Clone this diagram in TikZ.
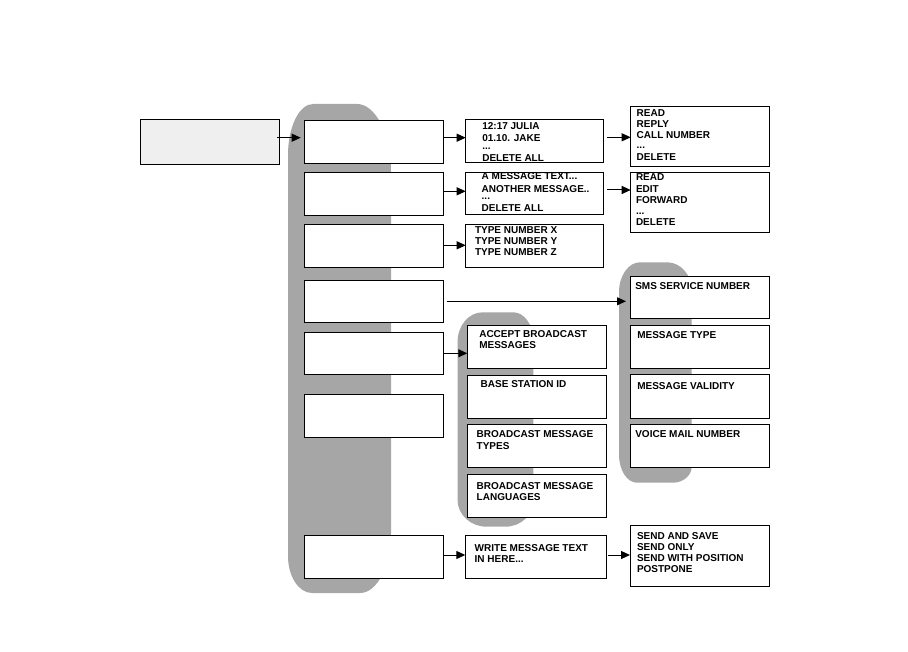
\documentclass[tikz,border=0pt]{standalone}
\usepackage{fontspec}
\setmainfont{Liberation Sans}
\usetikzlibrary{arrows.meta}
\definecolor{greyband}{RGB}{166,166,166}
\definecolor{startfill}{RGB}{239,239,239}
\newcommand\bx[6][]{\node[box,#1,minimum width={(#5-#3)*1pt},minimum height={(#6-#4)*1pt}] (#2) at ({(#3+#5)/2},{(#4+#6)/2}) {};}
\newcommand\lns[1]{\begin{tabular}[t]{@{}l@{}}#1\end{tabular}}
\begin{document}
\begin{tikzpicture}[x=1pt,y=-1pt,
 box/.style={draw=black,line width=1pt,fill=white,inner sep=0pt,outer sep=0pt},
 txt/.style={anchor=base west,inner sep=0pt,outer sep=0pt,font=\fontsize{10}{11}\selectfont\bfseries},
 arr/.style={line width=1pt,-{Triangle[length=9pt,width=8pt]}}]
\useasboundingbox (0,0) rectangle (908,652);
% grey backgrounds
\fill[greyband] (288,155) arc[start angle=180,end angle=270,x radius=25,y radius=51]
  -- (357,104) arc[start angle=270,end angle=360,x radius=34,y radius=68]
  -- (391,533) arc[start angle=0,end angle=90,x radius=31,y radius=60]
  -- (312,593) arc[start angle=90,end angle=180,x radius=24,y radius=37] -- cycle;
\fill[greyband] (457.5,342.3) arc[start angle=180,end angle=270,x radius=25,y radius=30]
  -- (513.3,312.3) arc[start angle=270,end angle=360,x radius=20,y radius=28]
  -- (533.3,500.7) arc[start angle=0,end angle=90,x radius=28,y radius=26]
  -- (486.5,526.7) arc[start angle=90,end angle=180,x radius=29,y radius=27] -- cycle;
\fill[greyband] (619,292.3) arc[start angle=180,end angle=270,x radius=21,y radius=30]
  -- (667,262.3) arc[start angle=270,end angle=360,x radius=24.7,y radius=28]
  -- (691.7,466.7) arc[start angle=0,end angle=90,x radius=19,y radius=16]
  -- (637,482.7) arc[start angle=90,end angle=180,x radius=18,y radius=28] -- cycle;
% boxes
\bx[fill=startfill]{start}{140.3}{120}{279.7}{164.3}
\bx{c1}{304.3}{120.3}{443.7}{163.3}
\bx{c2}{304.3}{172.3}{443.7}{215.3}
\bx{c3}{304.3}{224.3}{443.7}{267.3}
\bx{c4}{304.3}{280.3}{443.7}{323}
\bx{c5}{304.3}{332.3}{443.7}{375}
\bx{c6}{304.3}{394.3}{443.7}{437}
\bx{c7}{304.3}{535}{443.7}{578.3}
\bx{ba}{465.7}{119.3}{603.7}{162.7}
\bx{bb}{465.7}{172.3}{603.7}{214.3}
\bx{bc}{465.7}{224.3}{603.7}{267.3}
\bx{bd}{630.7}{106.7}{769.3}{166.7}
\bx{be}{630.7}{172.3}{769.3}{233}
\bx{accept}{467.3}{325.3}{606.7}{368.3}
\bx{base}{467.3}{375.3}{606.7}{418.3}
\bx{btypes}{467.3}{424.3}{606.7}{467.3}
\bx{blang}{467.3}{474.3}{606.7}{517.3}
\bx{sms}{630.3}{276.3}{769.7}{319}
\bx{mtype}{630.3}{325.3}{769.7}{368.3}
\bx{mval}{630.3}{375}{769.7}{418}
\bx{voice}{630.3}{424.3}{769.7}{467.3}
\bx{write}{465.3}{535}{606.7}{578.3}
\bx{send}{630}{525.3}{769.7}{586.3}
% texts
\node[txt] (ta) at (482.3,130) {\lns{12:17 JULIA\\[1pt]01.10. JAKE\\[-3pt]...\\[0.5pt]DELETE ALL}};
\node[txt] (tb) at (481.7,180) {\lns{A MESSAGE TEXT...\\[1.7pt]ANOTHER MESSAGE..\\[-4pt]...\\[1.2pt]DELETE ALL}};
\node[txt] (tc) at (475,234) {\lns{TYPE NUMBER X\\[-0.2pt]TYPE NUMBER Y\\[-0.2pt]TYPE NUMBER Z}};
\node[txt] (td) at (636.7,116.7) {\lns{READ\\REPLY\\[0.3pt]CALL NUMBER\\[-1.5pt]...\\[1.5pt]DELETE}};
\node[txt] (te) at (636,180.7) {\lns{READ\\[1.3pt]EDIT\\FORWARD\\[-0.3pt]...\\DELETE}};
\node[txt] (taccept) at (479.3,337.3) {\lns{ACCEPT BROADCAST\\MESSAGES}};
\node[txt] (tbase) at (480.7,387.3) {BASE STATION ID};
\node[txt] (tbtypes) at (476.7,437.3) {\lns{BROADCAST MESSAGE\\[0.7pt]TYPES}};
\node[txt] (tblang) at (476.7,489) {\lns{BROADCAST MESSAGE\\[0.3pt]LANGUAGES}};
\node[txt] (tsms) at (635.3,289.7) {SMS SERVICE NUMBER};
\node[txt] (tmtype) at (637.3,338.3) {MESSAGE TYPE};
\node[txt] (tmval) at (637.3,389) {MESSAGE VALIDITY};
\node[txt] (tvoice) at (635.3,437) {VOICE MAIL NUMBER};
\node[txt] (twrite) at (474.7,551.3) {\lns{WRITE MESSAGE TEXT\\IN HERE...}};
\node[txt] (tsend) at (637,539) {\lns{SEND AND SAVE\\SEND ONLY\\[0.3pt]SEND WITH POSITION\\POSTPONE}};
% arrows
\draw[arr] ([xshift=-2.4pt]start.east |- 0,137.7) -- ([xshift=-3.6pt]c1.west |- 0,137.7);
\draw[arr] ([xshift=-0.4pt]c1.east |- 0,137.7) -- (ba.west |- 0,137.7);
\draw[arr] ([xshift=-0.4pt]c2.east |- 0,191.3) -- (bb.west |- 0,191.3);
\draw[arr] ([xshift=-0.4pt]c3.east |- 0,245.3) -- (bc.west |- 0,245.3);
\draw[arr] ([xshift=3.6pt]ba.east |- 0,137.3) -- (bd.west |- 0,137.3);
\draw[arr] ([xshift=3.6pt]bb.east |- 0,190) -- (be.west |- 0,190);
\draw[arr] ([xshift=3pt]c4.east |- 0,301.3) -- ([xshift=-4.3pt]sms.west |- 0,301.3);
\draw[arr] (c5.east |- 0,353.3) -- (accept.west |- 0,353.3);
\draw[arr] (c7.east |- 0,555) -- (write.west |- 0,555);
\draw[arr] ([xshift=1.6pt]write.east |- 0,555) -- (send.west |- 0,555);
\end{tikzpicture}
\end{document}
